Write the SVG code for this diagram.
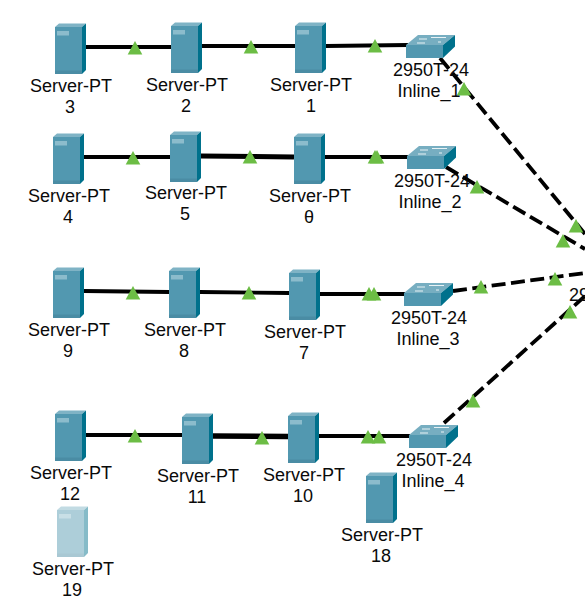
<svg xmlns="http://www.w3.org/2000/svg" width="585" height="609" viewBox="0 0 585 609">
<style>
text{font-family:"Liberation Sans",Arial,sans-serif;font-size:18px;fill:#0a0a0a;text-anchor:middle}
.l{stroke:#000;stroke-width:3.800;fill:none}
.h{stroke:#000;stroke-width:5;fill:none}
.d{stroke:#000;stroke-width:3.800;fill:none;stroke-dasharray:14 5.500}
.t{fill:#6cbd45}
</style>
<defs>
<g id="srv">
<rect x="0" y="0" width="27" height="47" fill="#5298b0"/>
<rect x="0" y="43.500" width="27" height="3.500" fill="#4a8ca4"/>
<polygon points="0,0 4,-3.500 31,-3.500 27,0" fill="#7fb3c5"/>
<polygon points="27,0 31,-3.500 31,43 27,47" fill="#00718c"/>
<rect x="2" y="4" width="12" height="4.500" fill="#8cbccc"/>
</g>
<g id="sw">
<polygon points="0,0 12,-10 49,-10 37,0" fill="#77aec1"/>
<rect x="0" y="0" width="37" height="13" fill="#5298b0"/>
<polygon points="37,0 49,-10 49,1.500 37,13" fill="#00718c"/>
<path d="M13,-6H21M25,-7.500H40M11,-2H19M32,-3H35" stroke="#e8f2f5" stroke-width="1.100" fill="none"/>
</g>
<polygon id="tri" points="0,-7 7.300,6.500 -7.300,6.500"/>
</defs>
<g id="connectors">
<path class="l" d="M86,47 L171,47"/>
<path class="l" d="M202,46 L295,46"/>
<path class="l" d="M326,46 L408,45"/>
<path class="l" d="M84,157 L170,157"/>
<path class="h" d="M201,156 L294,157"/>
<path class="l" d="M325,157 L409,157"/>
<path class="l" d="M84,291 L169,292"/>
<path class="l" d="M200,292 L289,293"/>
<path class="l" d="M320,294 L405,294"/>
<path class="l" d="M86,435 L182,435"/>
<path class="h" d="M213,436 L288,436.500" style="stroke-width:5.500"/>
<path class="l" d="M319,436 L410,436"/>
<path class="d" d="M440,58 L585,234"/>
<path class="d" d="M446,167 L585,249"/>
<path class="d" d="M453,291 L585,273"/>
<path class="d" d="M444,423 L585,296"/>
<g class="t">
<use href="#tri" x="135" y="48"/><use href="#tri" x="251" y="47"/><use href="#tri" x="375" y="46"/>
<use href="#tri" x="133" y="158"/><use href="#tri" x="250" y="157"/><use href="#tri" x="375" y="157"/><use href="#tri" x="377" y="157"/>
<use href="#tri" x="133" y="293"/><use href="#tri" x="249" y="293"/><use href="#tri" x="369" y="294"/><use href="#tri" x="374" y="294"/>
<use href="#tri" x="135" y="436"/><use href="#tri" x="262" y="438"/><use href="#tri" x="368" y="437"/><use href="#tri" x="379" y="437"/>
<use href="#tri" x="464" y="89"/><use href="#tri" x="576" y="226"/>
<use href="#tri" x="477" y="187"/><use href="#tri" x="563" y="241"/>
<use href="#tri" x="481" y="287"/><use href="#tri" x="555" y="279"/>
<use href="#tri" x="473" y="401"/><use href="#tri" x="570" y="312"/>
</g>
</g>
<g id="server-3"><use href="#srv" x="55" y="27"/><text x="71" y="92">Server-PT</text><text x="70" y="113">3</text></g>
<g id="server-2"><use href="#srv" x="171" y="26"/><text x="187" y="91">Server-PT</text><text x="186" y="112">2</text></g>
<g id="server-1"><use href="#srv" x="295" y="26"/><text x="311" y="91">Server-PT</text><text x="311" y="112">1</text></g>
<g id="server-4"><use href="#srv" x="53" y="137"/><text x="69" y="202">Server-PT</text><text x="68" y="223">4</text></g>
<g id="server-5"><use href="#srv" x="170" y="135"/><text x="186" y="199">Server-PT</text><text x="185" y="220">5</text></g>
<g id="server-6"><use href="#srv" x="294" y="137"/><text x="310" y="202">Server-PT</text><text x="309" y="223">θ</text></g>
<g id="server-9"><use href="#srv" x="53" y="271"/><text x="69" y="336">Server-PT</text><text x="68" y="357">9</text></g>
<g id="server-8"><use href="#srv" x="169" y="271"/><text x="185" y="336">Server-PT</text><text x="184" y="357">8</text></g>
<g id="server-7"><use href="#srv" x="289" y="273"/><text x="305" y="338">Server-PT</text><text x="304" y="359">7</text></g>
<g id="server-12"><use href="#srv" x="55" y="414"/><text x="71" y="479">Server-PT</text><text x="70" y="500">12</text></g>
<g id="server-11"><use href="#srv" x="182" y="417"/><text x="198" y="482">Server-PT</text><text x="197" y="503">11</text></g>
<g id="server-10"><use href="#srv" x="288" y="416"/><text x="304" y="481">Server-PT</text><text x="303" y="502">10</text></g>
<g id="server-18"><use href="#srv" x="366" y="476"/><text x="382" y="541">Server-PT</text><text x="381" y="562">18</text></g>
<g id="server-19"><use href="#srv" x="57" y="510" opacity="0.47"/><text x="73" y="575">Server-PT</text><text x="72" y="596">19</text></g>
<g id="switch-1"><use href="#sw" x="406" y="45"/><text x="431" y="76">2950T-24</text><text x="429" y="97">Inline_1</text></g>
<g id="switch-2"><use href="#sw" x="407" y="156"/><text x="432" y="187">2950T-24</text><text x="430" y="208">Inline_2</text></g>
<g id="switch-3"><use href="#sw" x="404" y="293"/><text x="429" y="324">2950T-24</text><text x="428" y="345">Inline_3</text></g>
<g id="switch-4"><use href="#sw" x="409" y="435"/><text x="434" y="466">2950T-24</text><text x="433" y="487">Inline_4</text></g>
<g id="switch-5"><text x="569" y="301" style="text-anchor:start">29</text></g>
</svg>
